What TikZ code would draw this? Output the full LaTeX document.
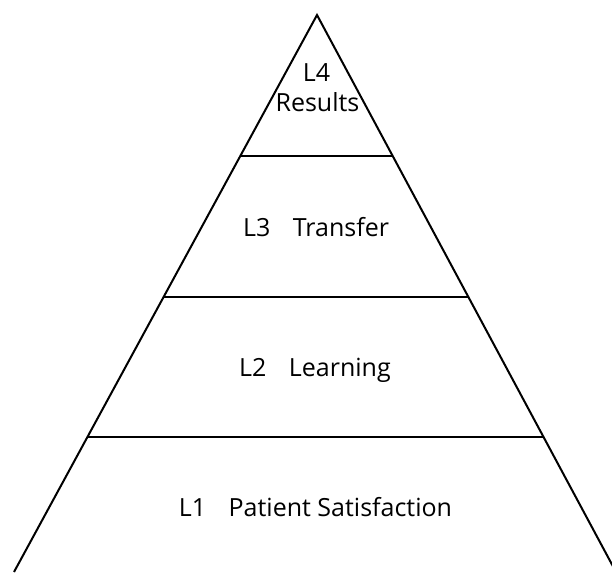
\documentclass[tikz,border=0pt]{standalone}
\usepackage{fontspec}
\setmainfont{Open Sans}
\usetikzlibrary{calc}
\begin{document}
\begin{tikzpicture}[x=1pt,y=1pt,
  edge/.style={line width=2pt,line join=miter},
  lbl/.style={font=\fontsize{25}{29}\selectfont,inner sep=0pt,anchor=base}]
\useasboundingbox (0,0) rectangle (612,572);
\fill[white] (0,0) rectangle (612,572);
\clip (0,0) rectangle (612,572);
\coordinate (A) at (317,557);
\coordinate (L) at (14,0);
\coordinate (R) at (616,0);
\draw[edge] (L) -- (A) -- (R);
\foreach \h/\n in {416/a,275/b,134.5/c}{
  \pgfmathsetmacro\t{(557-\h)/557}
  \coordinate (l\n) at ($(A)!\t!(L)$);
  \coordinate (r\n) at ($(A)!\t!(R)$);
  \draw[edge] (l\n) -- (r\n);
}
\node[lbl] (t4) at (316.5,490) {L4};
\node[lbl] (t4b) at (317.5,460) {Results};
\node[lbl] (t3) at (316,335) {L3\hspace{0.9em}Transfer};
\node[lbl] (t2) at (315,195) {L2\hspace{0.9em}Learning};
\node[lbl] (t1) at (315.5,55) {L1\hspace{0.9em}Patient Satisfaction};
\end{tikzpicture}
\end{document}
